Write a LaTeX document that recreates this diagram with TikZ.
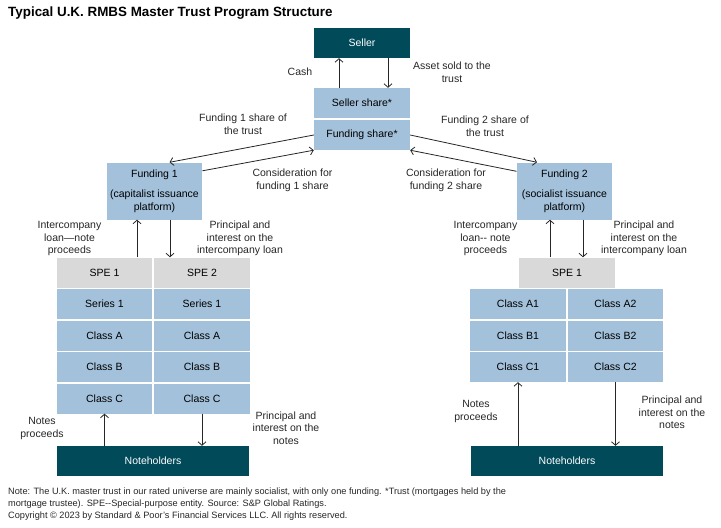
\documentclass[tikz,border=0pt]{standalone}
\usepackage{fontspec}
\setmainfont{Liberation Sans}
\usetikzlibrary{arrows.meta, positioning}
\definecolor{cDark} {HTML}{004A5A}
\definecolor{cLight}{HTML}{A3C1DA}
\definecolor{cGrey} {HTML}{D9D9D9}
\definecolor{cLine} {HTML}{262626}

\begin{document}
\begin{tikzpicture}[x=1pt, y=-1pt,
      font=\fontsize{10.5}{12.7}\selectfont,
      bx/.style = {inner sep=0pt, minimum width=95.5pt, minimum height=30pt, align=center},
      dk/.style = {bx, fill=cDark, text=white},
      lt/.style = {bx, fill=cLight},
      gr/.style = {bx, fill=cGrey},
      lb/.style = {align=center, inner sep=0pt, text=cLine},
      ar/.style = {-{Straight Barb[length=3.5pt, width=8pt]}, draw=cLine, line width=0.8pt} ]
    \useasboundingbox (0,0) rectangle (721,528);
    \node[anchor=west, inner sep=0pt, font=\bfseries\fontsize{13.4}{15}\selectfont] (title) at (8,13) {Typical U.K. RMBS Master Trust Program Structure};

    % trust
    \node[dk, minimum width=96pt] (seller) at (362,43) {Seller};
    \node[lt, minimum width=96pt] (sshare) at (362,103) {Seller share*};
    \node[lt, minimum width=96pt] (fshare) at (362,135) {Funding share*};
    \draw[ar] ([xshift=-23pt]sshare.north) -- ([xshift=-23pt]seller.south);
    \draw[ar] ([xshift=26pt]seller.south) -- ([xshift=26pt]sshare.north);
    \node[lb] (cash) at (300,72) {Cash};
    \node[lb] (asset) at (452,72) {Asset sold to the\\trust};

    % fundings
    \node[lt, minimum height=57pt] (f1) at (154.5,191) {Funding 1\\[8pt](capitalist issuance\\platform)};
    \node[lt, minimum height=57pt] (f2) at (564.5,191) {Funding 2\\[8pt](socialist issuance\\platform)};
    \draw[ar] (fshare.west) -- ([xshift=15pt]f1.north);
    \draw[ar] ([yshift=-8.5pt]f1.north east) -- (fshare.south west);
    \draw[ar] (fshare.east) -- ([xshift=-27.5pt]f2.north);
    \draw[ar] ([yshift=-9pt]f2.north west) -- (fshare.south east);
    \node[lb] (fs1) at (243,124.5) {Funding 1 share of\\the trust};
    \node[lb] (fs2) at (485,126.5) {Funding 2 share of\\the trust};
    \node[lb] (cons1) at (292.5,180.5) {Consideration for\\funding 1 share};
    \node[lb] (cons2) at (446,180.5) {Consideration for\\funding 2 share};

    % funding 1 side
    \node[gr] (speA) at (104.5,272.5) {SPE 1};
    \node[gr] (speB) at (202,272.5) {SPE 2};
    \foreach \t [count=\i] in {Series 1, Class A, Class B, Class C} {
      \node[lt] (la\i) at (104.5,272.5+31.5*\i) {\t};
      \node[lt] (lb\i) at (202,272.5+31.5*\i) {\t};
    }
    \draw[ar] (speA.north -| 137,0) -- (f1.south -| 137,0);
    \draw[ar] (f1.south -| 170,0) -- (speB.north -| 170,0);
    \node[lb] (ic1) at (69.5,238.5) {Intercompany\\loan—note\\proceeds};
    \node[lb] (pi1) at (240,238.5) {Principal and\\interest on the\\intercompany loan};
    \node[dk, minimum width=192pt] (nh1) at (153,461) {Noteholders};
    \draw[ar] (nh1.north -| la4.south) -- (la4.south);
    \draw[ar] (lb4.south) -- (lb4.south |- nh1.north);
    \node[lb] (np1) at (42,428.5) {Notes\\proceeds};
    \node[lb] (pin1) at (286,428) {Principal and\\interest on the\\notes};

    % funding 2 side
    \node[gr, minimum width=96pt] (speC) at (567,272.5) {SPE 1};
    \foreach \t [count=\i] in {A, B, C} {
      \node[lt] (ra\i) at (518,272.5+31.5*\i) {Class \t1};
      \node[lt] (rb\i) at (615.5,272.5+31.5*\i) {Class \t2};
    }
    \draw[ar] (speC.north -| 550,0) -- (f2.south -| 550,0);
    \draw[ar] (f2.south -| 583,0) -- (speC.north -| 583,0);
    \node[lb] (ic2) at (485.5,238.5) {Intercompany\\loan-\kern0pt- note\\proceeds};
    \node[lb] (pi2) at (644,238.5) {Principal and\\interest on the\\intercompany loan};
    \node[dk, minimum width=192pt] (nh2) at (567,461) {Noteholders};
    \draw[ar] (nh2.north -| ra3.south) -- (ra3.south);
    \draw[ar] (rb3.south) -- (rb3.south |- nh2.north);
    \node[lb] (np2) at (476,411.5) {Notes\\proceeds};
    \node[lb] (pin2) at (672,412.5) {Principal and\\interest on the\\notes};

    % footer
    \node[anchor=north west, align=left, inner sep=0pt, text=cLine, font=\fontsize{9.2}{12}\selectfont] (note) at (8,487.5) {Note: The U.K. master trust in our rated universe are mainly socialist, with only one funding. *Trust (mortgages held by the\\mortgage trustee). SPE-\kern0pt-Special-purpose entity. Source: S\&P Global Ratings.};
    \node[anchor=north west, inner sep=0pt, text=cLine, font=\fontsize{9.2}{12}\selectfont] (copy) at (8,511.5) {Copyright © 2023 by Standard \& Poor's Financial Services LLC. All rights reserved.};
  \end{tikzpicture}
\end{document}
